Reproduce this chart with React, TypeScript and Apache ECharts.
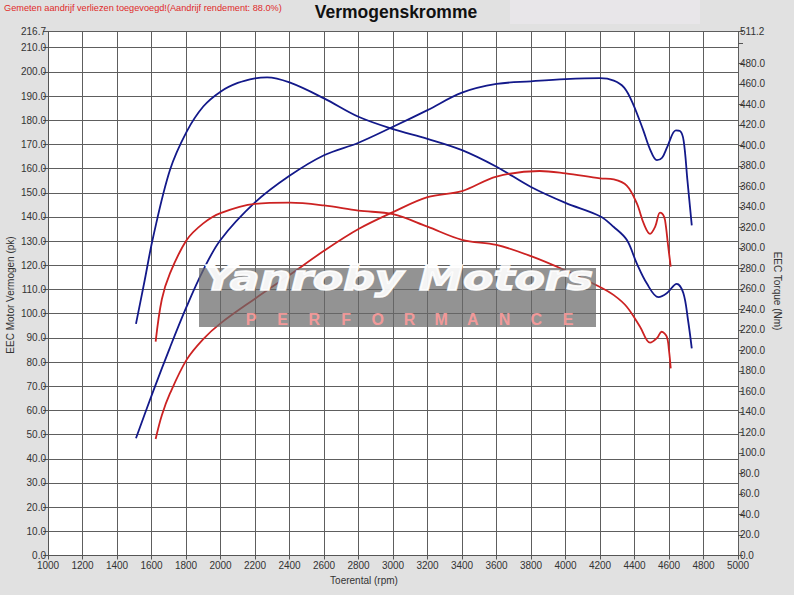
import React, { useEffect, useRef } from "react";
import * as echarts from "echarts";

// ---- data ----
const bluePowerRpm = [1510, 1610, 1707, 1804, 1900, 2000, 2200, 2400, 2600, 2800, 3000, 3200, 3400, 3600, 3800, 4000, 4200, 4280, 4340, 4390, 4450, 4490, 4530, 4560, 4590, 4640, 4665, 4685, 4707, 4732];
const bluePower = [48.5, 68, 86, 103, 118, 130.5, 146, 157, 165.5, 170.7, 177.3, 184.2, 191.4, 195, 196.1, 197, 197.4, 196.4, 193.5, 187, 176, 168, 163.5, 164.5, 169, 175.8, 175.5, 171.5, 155, 136.5];

const blueTorqueRpm = [1510, 1560, 1610, 1707, 1804, 1900, 2000, 2100, 2200, 2270, 2400, 2600, 2800, 3000, 3200, 3400, 3600, 3800, 4000, 4200, 4280, 4355, 4413, 4471, 4539, 4587, 4645, 4683, 4710, 4732];
const blueTorque = [226, 268, 311, 376, 413.5, 438, 452.5, 461, 465.5, 466.5, 461.5, 446, 428, 416, 406.5, 395.5, 379.3, 359.5, 344, 331, 320.5, 308, 285, 265.5, 252, 255.8, 265, 256, 230, 202];

const redPowerRpm = [1624, 1660, 1707, 1804, 1900, 2000, 2200, 2400, 2600, 2800, 3000, 3200, 3400, 3600, 3850, 4000, 4200, 4280, 4355, 4413, 4455, 4490, 4520, 4548, 4565, 4577, 4595, 4610];
const redPower = [48.2, 58, 67, 81, 89.5, 96, 106.2, 116, 126, 135, 142, 148.2, 150.7, 156.7, 159, 158, 156, 155.5, 153, 145.7, 137, 133, 136, 141.8, 141, 138.7, 128, 119.5];

const redTorqueRpm = [1624, 1660, 1707, 1804, 1900, 2000, 2200, 2400, 2600, 2800, 3000, 3200, 3400, 3600, 3800, 4000, 4200, 4280, 4355, 4432, 4490, 4530, 4557, 4587, 4600, 4610];
const redTorque = [208.6, 250, 275.3, 307.8, 324, 334, 343, 344.2, 341.5, 336.4, 333, 320.8, 308, 303, 292, 278, 262, 254, 242.7, 223.2, 207.6, 212, 218.3, 213.5, 200, 182.6];

const rpmMin = 1000;
const rpmMax = 5000;
const rpmStep = 200;
const powerMax = 216.7;
const powerStep = 10;
const torqueMax = 511.2;
const torqueStep = 20;

const titleText = "Vermogenskromme";
const noteText = "Gemeten aandrijf verliezen toegevoegd!(Aandrijf rendement: 88.0%)";
const xName = "Toerental (rpm)";
const leftName = "EEC Motor Vermogen (pk)";
const rightName = "EEC Torque (Nm)";
const wmMain = "Yanroby Motors";
const wmSub = "PERFORMANCE";

const FONT = "'Liberation Sans', Arial, sans-serif";
const BLUE = "#13198a";
const RED = "#cc2222";

function pairs(xs: number[], ys: number[]) {
  return xs.map((x, i) => [x, ys[i]]);
}

export default function App() {
  const ref = useRef<HTMLDivElement>(null);
  useEffect(() => {
    if (!ref.current) return;
    const chart = echarts.init(ref.current, null, { renderer: "svg" });

    const subLetters = wmSub.split("").map((ch, i) => ({
      type: "text",
      x: 251 + i * 31.7,
      y: 319,
      z: 101,
      style: {
        text: ch,
        font: `bold 16px ${FONT}`,
        fill: "rgba(255,155,155,0.9)",
        textAlign: "center",
        textVerticalAlign: "middle",
      },
    }));

    const lineSeries = (name: string, data: number[][], color: string, yAxisIndex: number) => ({
      name,
      type: "line",
      yAxisIndex,
      data,
      smooth: 0.35,
      showSymbol: false,
      lineStyle: { color, width: 1.8 },
      z: 3,
    });

    chart.setOption({
      animation: false,
      backgroundColor: "#e1e1e1",
      textStyle: { fontFamily: FONT },
      grid: {
        left: 48,
        right: 56,
        top: 31.5,
        bottom: 39.5,
        show: true,
        backgroundColor: "#ffffff",
        borderWidth: 0,
      },
      xAxis: {
        type: "value",
        min: rpmMin,
        max: rpmMax,
        interval: rpmStep,
        axisLine: { show: true, lineStyle: { color: "#555", width: 1 } },
        axisTick: { show: true, length: 4, lineStyle: { color: "#555" } },
        axisLabel: {
          color: "#333",
          fontSize: 10,
          fontFamily: FONT,
          margin: 5,
          formatter: (v: number) => String(v),
        },
        splitLine: { show: true, lineStyle: { color: "#5e5e5e", width: 1 } },
      },
      yAxis: [
        {
          type: "value",
          min: 0,
          max: powerMax,
          interval: powerStep,
          position: "left",
          axisLine: { show: true, lineStyle: { color: "#555", width: 1 } },
          axisTick: { show: true, length: 5, lineStyle: { color: "#555" } },
          axisLabel: {
            color: "#333",
            fontSize: 10,
            fontFamily: FONT,
            margin: 2,
            formatter: (v: number) => v.toFixed(1),
          },
          splitLine: { show: true, lineStyle: { color: "#5e5e5e", width: 1 } },
        },
        {
          type: "value",
          min: 0,
          max: torqueMax,
          interval: torqueStep,
          position: "right",
          axisLine: { show: false },
          axisTick: { show: true, length: 5, lineStyle: { color: "#555" } },
          axisLabel: {
            color: "#333",
            fontSize: 10,
            fontFamily: FONT,
            margin: 2,
            formatter: (v: number) => (v === 500 ? "" : v.toFixed(1)),
          },
          splitLine: { show: false },
        },
      ],
      series: [
        lineSeries("bluePower", pairs(bluePowerRpm, bluePower), BLUE, 0),
        lineSeries("blueTorque", pairs(blueTorqueRpm, blueTorque), BLUE, 1),
        lineSeries("redPower", pairs(redPowerRpm, redPower), RED, 0),
        lineSeries("redTorque", pairs(redTorqueRpm, redTorque), RED, 1),
      ],
      graphic: [
        {
          type: "rect",
          shape: { x: 510, y: 0, width: 190, height: 24 },
          style: { fill: "#e8e6e9" },
          z: 0,
          silent: true,
        },
        {
          type: "text",
          x: 4,
          y: 8,
          style: {
            text: noteText,
            font: `9.2px ${FONT}`,
            fill: "#e02a2a",
            textVerticalAlign: "middle",
          },
        },
        {
          type: "text",
          x: 396,
          y: 12,
          style: {
            text: titleText,
            font: `bold 17.5px ${FONT}`,
            fill: "#111",
            textAlign: "center",
            textVerticalAlign: "middle",
          },
        },
        {
          type: "text",
          x: 364,
          y: 580,
          style: {
            text: xName,
            font: `10px ${FONT}`,
            fill: "#333",
            textAlign: "center",
            textVerticalAlign: "middle",
          },
        },
        {
          type: "text",
          x: 10,
          y: 295,
          rotation: Math.PI / 2,
          style: {
            text: leftName,
            font: `10px ${FONT}`,
            fill: "#333",
            textAlign: "center",
            textVerticalAlign: "middle",
          },
        },
        {
          type: "text",
          x: 777,
          y: 291,
          rotation: -Math.PI / 2,
          style: {
            text: rightName,
            font: `10px ${FONT}`,
            fill: "#333",
            textAlign: "center",
            textVerticalAlign: "middle",
          },
        },
        {
          type: "rect",
          shape: { x: 199, y: 268, width: 397, height: 59 },
          style: { fill: "rgba(105,105,105,0.72)" },
          z: 100,
          silent: true,
        },
        {
          type: "text",
          x: 398,
          y: 278,
          z: 101,
          scaleX: 1.3,
          style: {
            text: wmMain,
            font: `italic 900 34px 'DejaVu Sans', ${FONT}`,
            fill: "rgba(255,255,255,0.93)",
            stroke: "rgba(255,255,255,0.93)",
            lineWidth: 1.5,
            textAlign: "center",
            textVerticalAlign: "middle",
          },
        },
        ...subLetters,
      ],
    });

    return () => chart.dispose();
  }, []);

  return (
    <div
      ref={ref}
      style={{ position: "fixed", left: 0, top: 0, width: 794, height: 595 }}
    />
  );
}
